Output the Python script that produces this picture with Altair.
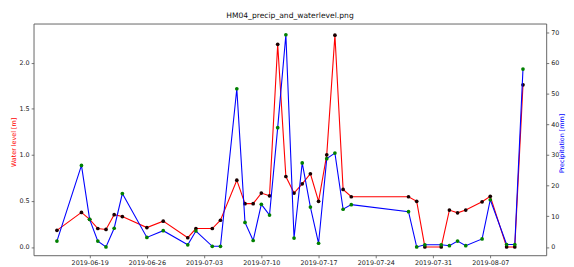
import altair as alt
import pandas as pd

dates = ["2019-06-15", "2019-06-18", "2019-06-19", "2019-06-20", "2019-06-21",
         "2019-06-22", "2019-06-23", "2019-06-26", "2019-06-28", "2019-07-01",
         "2019-07-02", "2019-07-04", "2019-07-05", "2019-07-07", "2019-07-08",
         "2019-07-09", "2019-07-10", "2019-07-11", "2019-07-12", "2019-07-13",
         "2019-07-14", "2019-07-15", "2019-07-16", "2019-07-17", "2019-07-18",
         "2019-07-19", "2019-07-20", "2019-07-21", "2019-07-28", "2019-07-29",
         "2019-07-30", "2019-08-01", "2019-08-02", "2019-08-03", "2019-08-04",
         "2019-08-06", "2019-08-07", "2019-08-09", "2019-08-10", "2019-08-11"]

water_level = [0.18, 0.375, 0.30, 0.20, 0.19, 0.35, 0.33, 0.21, 0.28, 0.10,
               0.20, 0.20, 0.29, 0.725, 0.47, 0.47, 0.585, 0.555, 2.20, 0.765,
               0.585, 0.685, 0.795, 0.495, 1.00, 2.30, 0.625, 0.545, 0.545, 0.495,
               0.0, 0.0, 0.40, 0.37, 0.40, 0.49, 0.55, 0.0, 0.0, 1.76]

precipitation = [1.9, 26.6, 9.0, 1.9, 0.0, 6.1, 17.4, 3.1, 5.3, 0.7,
                 5.2, 0.2, 0.2, 51.6, 8.0, 2.1, 13.9, 10.4, 38.9, 69.2,
                 2.9, 27.4, 13.0, 1.2, 28.8, 30.6, 12.3, 13.8, 11.5, 0.0,
                 0.7, 0.7, 0.4, 1.9, 0.4, 2.6, 15.4, 0.8, 0.8, 58.0]

x_ticks = ["2019-06-19", "2019-06-26", "2019-07-03", "2019-07-10",
           "2019-07-17", "2019-07-24", "2019-07-31", "2019-08-07"]
wl_ticks = [0.0, 0.5, 1.0, 1.5, 2.0]
pr_ticks = [0, 10, 20, 30, 40, 50, 60, 70]

df = pd.DataFrame({
    "date": pd.to_datetime(dates),
    "water": water_level,
    "precip": precipitation,
})


def dt(s, h=0, m=0):
    y, mo, d = [int(v) for v in s.split("-")]
    return alt.DateTime(year=y, month=mo, date=d, hours=h, minutes=m)


x_enc = alt.X(
    "date:T",
    scale=alt.Scale(domain=[dt("2019-06-12", 3, 36), dt("2019-08-13", 20, 24)]),
    axis=alt.Axis(values=[dt(s) for s in x_ticks], format="%Y-%m-%d",
                  title=None, grid=False, domain=False, labelAngle=0),
)

wl_scale = alt.Scale(domain=[-0.091, 2.425], nice=False, zero=False)
pr_scale = alt.Scale(domain=[-2.73, 72.83], nice=False, zero=False)

wl_axis = alt.Axis(values=wl_ticks, format=".1f", title="Water level [m]",
                   titleColor="#ff0000", grid=False, domain=False,
                   titleX=-20, titleY=120, titleAngle=270,
                   titleBaseline="middle", titleAlign="center")
pr_axis = alt.Axis(values=pr_ticks, format="d", title="Precipitation [mm]",
                   titleColor="#0000ff", orient="right", grid=False,
                   domain=False, titleX=15, titleY=121, titleAngle=270,
                   titleBaseline="middle", titleAlign="center")

base = alt.Chart(df)

red_line = base.mark_line(color="#ff0000", strokeWidth=1.1).encode(
    x=x_enc, y=alt.Y("water:Q", scale=wl_scale, axis=wl_axis))
red_pts = base.mark_point(filled=True, color="#1a0000", size=14, opacity=1).encode(
    x=x_enc, y=alt.Y("water:Q", scale=wl_scale, axis=wl_axis))

blue_line = base.mark_line(color="#0000ff", strokeWidth=1.1).encode(
    x=x_enc, y=alt.Y("precip:Q", scale=pr_scale, axis=pr_axis))
green_pts = base.mark_point(filled=True, color="#008000", size=14, opacity=1).encode(
    x=x_enc, y=alt.Y("precip:Q", scale=pr_scale, axis=pr_axis))

left = alt.layer(red_line, red_pts)
right = alt.layer(blue_line, green_pts)

chart = alt.layer(left, right).resolve_scale(y="independent").properties(
    width=520,
    height=235,
    autosize=alt.AutoSizeParams(type="none"),
    padding={"left": 26, "top": 14, "right": 20, "bottom": 10},
    title=alt.TitleParams("HM04_precip_and_waterlevel.png", fontSize=7.7,
                          font="DejaVu Sans", fontWeight="normal",
                          color="#111111", anchor="middle", offset=4),
).configure_view(
    stroke="#555555", strokeWidth=0.9
).configure_axis(
    labelFont="DejaVu Sans", labelFontSize=6.5, labelColor="#222222",
    titleFont="DejaVu Sans", titleFontSize=6.5, titleFontWeight="normal",
    tickColor="#555555", tickSize=2.5, tickWidth=0.8, labelPadding=2,
)

chart.save("out.html", embed_options={"renderer": "svg", "actions": False})
